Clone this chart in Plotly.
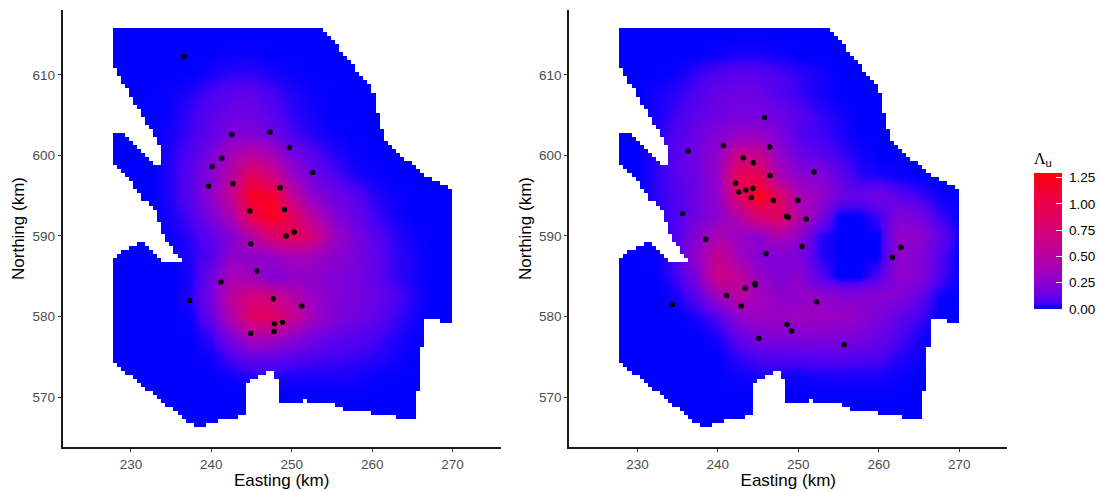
import plotly.graph_objects as go

# ---------- data ----------
grid_east = [227.5, 230, 232.5, 235, 237.5, 240, 242.5, 245, 247.5, 250, 252.5, 255, 257.5, 260, 262.5, 265, 267.5, 270]
grid_north = [615, 612.5, 610, 607.5, 605, 602.5, 600, 597.5, 595, 592.5, 590, 587.5, 585, 582.5, 580, 577.5, 575, 572.5, 570, 567.5, 565]

left_values = [
    [0, 0, 0, 0, 0, 0, 0, 0, 0, 0, 0, 0, 0, 0, 0, 0, 0, 0],
    [0, 0, 0, 0, 0, 0, .01, .01, 0, 0, 0, 0, 0, 0, 0, 0, 0, 0],
    [0, 0, 0, 0, 0, .02, .04, .04, .02, .01, 0, 0, 0, 0, 0, 0, 0, 0],
    [0, 0, 0, .01, .03, .07, .11, .11, .07, .03, .01, 0, 0, 0, 0, 0, 0, 0],
    [0, 0, 0, .01, .05, .10, .15, .15, .10, .04, .02, 0, 0, 0, 0, 0, 0, 0],
    [0, 0, 0, .02, .06, .12, .21, .22, .16, .07, .03, .01, 0, 0, 0, 0, 0, 0],
    [0, 0, 0, .03, .08, .20, .40, .55, .40, .18, .09, .04, .01, 0, 0, 0, 0, 0],
    [0, 0, 0, .03, .10, .25, .50, .92, .70, .32, .16, .08, .03, .01, 0, 0, 0, 0],
    [0, 0, 0, .03, .10, .28, .60, 1.20, 1.16, .58, .26, .16, .10, .04, .01, 0, 0, 0],
    [0, 0, 0, .02, .07, .20, .42, .98, 1.25, .90, .48, .24, .14, .06, .02, 0, 0, 0],
    [0, 0, 0, .01, .04, .11, .22, .48, .80, .93, .75, .37, .21, .10, .04, .01, 0, 0],
    [0, 0, 0, 0, .03, .09, .26, .28, .29, .40, .36, .27, .21, .13, .05, .02, 0, 0],
    [0, 0, 0, 0, .02, .16, .42, .36, .19, .27, .27, .22, .19, .12, .05, .02, 0, 0],
    [0, 0, 0, 0, .03, .18, .55, .72, .68, .48, .32, .22, .19, .15, .08, .03, 0, 0],
    [0, 0, 0, 0, .01, .13, .46, .88, .90, .62, .37, .22, .17, .12, .06, .02, 0, 0],
    [0, 0, 0, 0, 0, .05, .20, .42, .38, .27, .17, .12, .09, .07, .03, .01, 0, 0],
    [0, 0, 0, 0, 0, .01, .07, .12, .12, .09, .07, .06, .05, .04, .02, 0, 0, 0],
    [0, 0, 0, 0, 0, 0, .01, .03, .03, .02, .02, .02, .02, .01, 0, 0, 0, 0],
    [0, 0, 0, 0, 0, 0, 0, 0, 0, 0, 0, 0, 0, 0, 0, 0, 0, 0],
    [0, 0, 0, 0, 0, 0, 0, 0, 0, 0, 0, 0, 0, 0, 0, 0, 0, 0],
    [0, 0, 0, 0, 0, 0, 0, 0, 0, 0, 0, 0, 0, 0, 0, 0, 0, 0],
]

right_values = [
    [0, 0, 0, 0, 0, 0, 0, 0, 0, 0, 0, 0, 0, 0, 0, 0, 0, 0],
    [0, 0, 0, 0, 0, .01, .02, .02, .01, 0, 0, 0, 0, 0, 0, 0, 0, 0],
    [0, 0, 0, .01, .05, .08, .10, .10, .07, .04, .02, 0, 0, 0, 0, 0, 0, 0],
    [0, 0, .02, .04, .08, .13, .15, .14, .09, .05, .02, 0, 0, 0, 0, 0, 0, 0],
    [0, 0, .02, .06, .11, .15, .18, .18, .15, .09, .05, .02, 0, 0, 0, 0, 0, 0],
    [0, 0, .03, .08, .15, .23, .31, .31, .20, .09, .06, .03, 0, 0, 0, 0, 0, 0],
    [0, 0, .04, .10, .17, .30, .68, .63, .31, .15, .10, .06, .02, 0, 0, 0, 0, 0],
    [0, 0, .04, .10, .15, .30, .95, .95, .42, .26, .24, .12, .04, .02, .01, 0, 0, 0],
    [0, 0, .04, .08, .15, .30, .85, 1.25, .85, .42, .31, .16, .12, .16, .09, .05, .01, 0],
    [0, 0, .03, .08, .17, .26, .48, .80, .90, .47, .22, 0, 0, .06, .22, .16, .05, 0],
    [0, 0, .02, .08, .25, .42, .31, .26, .42, .28, .04, 0, 0, 0, .28, .27, .12, .01],
    [0, 0, .01, .08, .32, .60, .37, .21, .21, .20, .04, 0, 0, 0, .28, .22, .09, 0],
    [0, 0, 0, .06, .20, .70, .55, .32, .21, .26, .10, 0, 0, .08, .27, .22, .07, 0],
    [0, 0, 0, .02, .10, .32, .50, .37, .27, .29, .30, .24, .22, .25, .22, .11, .01, 0],
    [0, 0, 0, 0, .02, .08, .27, .32, .32, .35, .32, .32, .27, .19, .11, .06, 0, 0],
    [0, 0, 0, 0, 0, .02, .11, .21, .21, .21, .21, .21, .18, .14, .07, .02, 0, 0],
    [0, 0, 0, 0, 0, 0, .04, .07, .08, .08, .09, .09, .08, .07, .03, .01, 0, 0],
    [0, 0, 0, 0, 0, 0, .01, .02, .02, .01, .02, .02, .02, .02, .01, 0, 0, 0],
    [0, 0, 0, 0, 0, 0, 0, 0, 0, 0, 0, 0, 0, 0, 0, 0, 0, 0],
    [0, 0, 0, 0, 0, 0, 0, 0, 0, 0, 0, 0, 0, 0, 0, 0, 0, 0],
    [0, 0, 0, 0, 0, 0, 0, 0, 0, 0, 0, 0, 0, 0, 0, 0, 0, 0],
]

left_sites_east = [236.6, 242.55, 247.3, 249.7, 241.3, 240.1, 252.6, 239.65, 242.7, 248.55, 249.1, 244.8, 250.3, 249.3, 244.9, 245.65, 241.2, 237.3, 247.7, 251.25, 248.85, 247.85, 247.8, 244.9]
left_sites_north = [612.3, 602.6, 602.9, 601.0, 599.65, 598.6, 597.9, 596.2, 596.5, 596.0, 593.3, 593.1, 590.5, 590.0, 589.05, 585.65, 584.3, 582.0, 582.2, 581.3, 579.3, 579.1, 578.15, 577.9]
right_sites_east = [245.8, 240.7, 236.3, 246.45, 243.15, 244.4, 246.5, 251.95, 242.2, 244.35, 243.45, 242.6, 244.15, 246.9, 249.95, 248.55, 248.75, 251.0, 235.6, 238.5, 246.0, 250.45, 262.75, 261.7, 244.6, 244.65, 243.4, 241.1, 242.9, 252.3, 248.6, 249.15, 245.1, 255.7, 234.35]
right_sites_north = [604.7, 601.25, 600.55, 601.05, 599.7, 599.1, 597.5, 597.95, 596.55, 595.9, 595.7, 595.45, 594.75, 594.4, 594.4, 592.45, 592.3, 592.1, 592.75, 589.6, 587.8, 588.7, 588.6, 587.35, 584.1, 583.9, 583.5, 582.6, 581.3, 581.8, 579.0, 578.2, 577.3, 576.5, 581.5]

# survey outline, row by row on the raster (first column, end column)
region_first = [0]*10 + [1]*2 + [2]*2 + [3] + [4]*2 + [5]*2 + [6] + [7]*2 + [8]*2 + [9] + [10] + [0]*8 + [1, 2, 3, 4, 5, 5, 6, 7, 7, 9, 10, 11, 11, 11, 12, 12, 12, 13, 13, 6, 4, 2, 1] + [0]*26 + [1, 2, 3, 5, 6, 7, 8, 10, 11, 12, 13, 15, 16, 17, 18, 20]
region_end = [52, 53, 54, 55, 56, 56, 57, 58, 59, 60, 60, 61, 62, 63, 64, 64] + [65]*5 + [66]*4 + [67]*3 + [68, 69, 70, 71, 72, 74, 75, 76, 77, 79, 81, 83] + [84]*33 + [77]*6 + [76]*11 + [75]*7 + [26, 23]
region_holes = {26: [(3, 10)], 27: [(4, 11)], 28: [(5, 11)], 29: [(6, 12)], 30: [(7, 12)], 31: [(8, 12)], 32: [(9, 12)], 33: [(10, 12)],
                53: [(8, 14)], 54: [(9, 15)], 55: [(10, 15)], 56: [(11, 16)], 57: [(12, 17)], 72: [(77, 81)],
                85: [(38, 40)], 86: [(36, 40)], 87: [(34, 41)], 88: [(33, 41)], 89: [(33, 41)], 90: [(33, 41)], 91: [(33, 41)],
                92: [(33, 41), (47, 48)], 93: [(33, 55)], 94: [(33, 57)], 95: [(33, 64)], 96: [(31, 70)]}
raster_west, raster_north, raster_dx, raster_dy = 227.76, 615.84, 0.503, 0.5015

color_ticks = [0, 0.25, 0.5, 0.75, 1.0, 1.25]
color_labels = ["\u00a00.00", "\u00a00.25", "\u00a00.50", "\u00a00.75", "\u00a01.00", "\u00a01.25"]
color_max = 1.29
x_ticks = [230, 240, 250, 260, 270]
y_ticks = [570, 580, 590, 600, 610]


# ---------- blue -> red gradient through Lab, as the reference legend ----------
def to_lab(rgb):
    lin = [(c/12.92 if c <= .04045 else ((c+.055)/1.055)**2.4) for c in rgb]
    X = .4124*lin[0]+.3576*lin[1]+.1805*lin[2]
    Y = .2126*lin[0]+.7152*lin[1]+.0722*lin[2]
    Z = .0193*lin[0]+.1192*lin[1]+.9505*lin[2]
    f = lambda t: t**(1/3) if t > .008856 else 7.787*t+16/116
    fx, fy, fz = f(X/.9505), f(Y), f(Z/1.089)
    return (116*fy-16, 500*(fx-fy), 200*(fy-fz))


def from_lab(L, a, b):
    fy = (L+16)/116
    g = lambda t: t**3 if t**3 > .008856 else (t-16/116)/7.787
    X, Y, Z = .9505*g(fy+a/500), g(fy), 1.089*g(fy-b/200)
    lin = (3.2406*X-1.5372*Y-.4986*Z, -.9689*X+1.8758*Y+.0415*Z, .0557*X-.2040*Y+1.0570*Z)
    out = []
    for c in lin:
        c = max(0, min(1, c))
        out.append(round(255*(12.92*c if c <= .0031308 else 1.055*c**(1/2.4)-.055)))
    return "rgb(%d,%d,%d)" % tuple(out)


lab_lo, lab_hi = to_lab((0, 0, 1)), to_lab((1, 0, 0))
scale = [[i/20, from_lab(*[lab_lo[k]+(lab_hi[k]-lab_lo[k])*i/20 for k in range(3)])] for i in range(21)]

# ---------- page geometry ----------
W, H = 1100, 491
panels = [(63, 501), (570, 1008)]
top, bottom = 10, 447
x_range = [221.55, 275.96]
y_range = [563.79, 618.07]

# white raster that hides everything outside the surveyed region
pad_l, pad_r, pad_t, pad_b = 6, 8, 3, 10
mask_x = [raster_west+(c+.5)*raster_dx for c in range(-pad_l, 84+pad_r)]
mask_y = [raster_north-(r+.5)*raster_dy for r in range(-pad_t, 99+pad_b)]
mask_z = []
for r in range(-pad_t, 99+pad_b):
    row = []
    for c in range(-pad_l, 84+pad_r):
        inside = 0 <= r < 99 and region_first[r] <= c < region_end[r]
        if inside:
            inside = not any(a <= c < b for a, b in region_holes.get(r, []))
        row.append(None if inside else 1)
    mask_z.append(row)

fig = go.Figure()
datasets = [(left_values, left_sites_east, left_sites_north), (right_values, right_sites_east, right_sites_north)]
for i, (vals, se, sn) in enumerate(datasets):
    ax = "" if i == 0 else "2"
    fig.add_trace(go.Heatmap(x=grid_east, y=grid_north, z=vals, coloraxis="coloraxis", zsmooth="best",
                             xaxis="x"+ax, yaxis="y"+ax, hoverinfo="skip"))
    fig.add_trace(go.Heatmap(x=mask_x, y=mask_y, z=mask_z, colorscale=[[0, "white"], [1, "white"]], showscale=False,
                             zmin=0, zmax=1, xaxis="x"+ax, yaxis="y"+ax, hoverinfo="skip"))
    fig.add_trace(go.Scatter(x=se, y=sn, mode="markers", marker=dict(color="black", size=5.4),
                             xaxis="x"+ax, yaxis="y"+ax, showlegend=False))

axis_common = dict(showgrid=False, zeroline=False, showline=True, linecolor="#1a1a1a", linewidth=1.6,
                   ticks="outside", ticklen=3.5, tickwidth=1.1, tickcolor="#333333",
                   tickfont=dict(family="Liberation Sans", size=13.5, color="#4d4d4d"),
                   mirror=False, automargin=False)
title_font = dict(family="Liberation Sans", size=17, color="black")
for i, (l, r) in enumerate(panels):
    ax = "" if i == 0 else "2"
    fig.layout["xaxis"+ax] = dict(axis_common, domain=[l/W, r/W], range=x_range, tickvals=x_ticks, anchor="y"+ax,
                                  title=dict(text="Easting (km)", font=title_font, standoff=3))
    fig.layout["yaxis"+ax] = dict(axis_common, domain=[1-bottom/H, 1-top/H], range=y_range, tickvals=y_ticks, anchor="x"+ax,
                                  title=dict(text="Northing (km)", font=title_font, standoff=3))

bar_top, bar_bottom, bar_left, bar_w = 173, 309, 1034, 28
title_room = 24
fig.update_layout(
    width=W, height=H, margin=dict(l=0, r=0, t=0, b=0), paper_bgcolor="white", plot_bgcolor="white",
    showlegend=False,
    coloraxis=dict(cmin=0, cmax=color_max, colorscale=scale, colorbar=dict(
        x=bar_left/W, xanchor="left", y=1-bar_bottom/H, yanchor="bottom",
        xpad=0, ypad=0, thickness=bar_w, thicknessmode="pixels", len=bar_bottom-bar_top+title_room, lenmode="pixels",
        outlinewidth=0, tickvals=color_ticks, ticktext=color_labels, ticks="inside", ticklen=5.6, tickwidth=1, tickcolor="white",
        tickfont=dict(family="Liberation Sans", size=13.5, color="black"),
        title=dict(text="<span style='font-family:Liberation Serif'>Λ</span><sub>u</sub>", side="top",
                   font=dict(family="Liberation Sans", size=16, color="black")))),
)
# left-hand legend ticks (the colour bar only draws its right-hand ones)
for v in color_ticks:
    yp = 1-(bar_bottom-(bar_bottom-bar_top)*v/color_max)/H
    fig.add_shape(type="line", xref="paper", yref="paper", x0=bar_left/W, x1=(bar_left+5.6)/W, y0=yp, y1=yp,
                  line=dict(color="white", width=1))

fig.write_html("out.html", post_script="document.body.style.margin='0';", config=dict(displayModeBar=False))
